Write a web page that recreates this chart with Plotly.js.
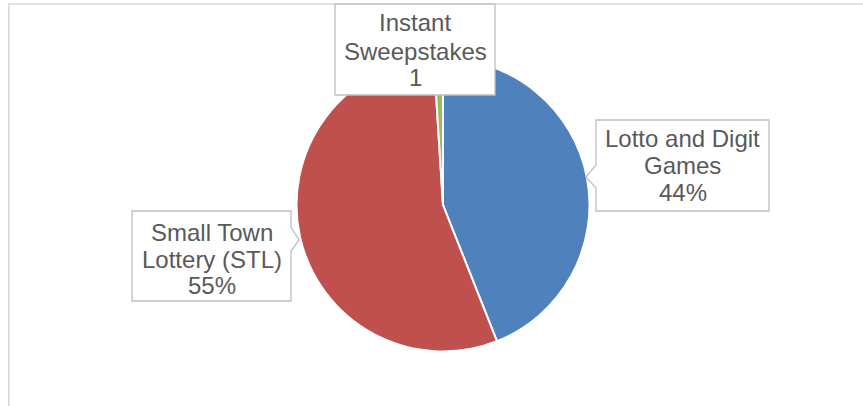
<!DOCTYPE html>
<html>
<head>
<meta charset="utf-8">
<script src="https://cdn.plot.ly/plotly-3.0.1.min.js"></script>
<style>html,body{margin:0;padding:0;background:#fff;}#chart{width:863px;height:406px;}</style>
</head>
<body>
<div id="chart"></div>
<script>
// ---- data ----
const categories = ['Lotto and Digit Games', 'Small Town Lottery (STL)', 'Instant Sweepstakes'];
const values = [44, 55, 1];
const valueLabels = ['44%', '55%', '1'];
const labelLines = [['Lotto and Digit', 'Games'], ['Small Town', 'Lottery (STL)'], ['Instant', 'Sweepstakes']];
const colors = ['#4F81BD', '#C0504D', '#9BBB59'];

// ---- layout helpers ----
const W = 863, H = 406;
const fx = x => x / W;
const fy = y => 1 - y / H;
const P = (x, y) => fx(x).toFixed(5) + ',' + fy(y).toFixed(5);

const cx = 443, cy = 205, r = 146.5;

const trace = {
  type: 'pie',
  labels: categories,
  values: values,
  sort: false,
  direction: 'clockwise',
  rotation: 0,
  textinfo: 'none',
  hoverinfo: 'none',
  showlegend: false,
  marker: {colors: colors, line: {color: '#FFFFFF', width: 2}},
  domain: {x: [fx(cx - r), fx(cx + r)], y: [fy(cy + r), fy(cy - r)]}
};

// callout boxes (positions in px)
const boxes = [
  // Lotto: pointer on left
  'M' + P(596, 120) + 'L' + P(769, 120) + 'L' + P(769, 211) + 'L' + P(596, 211) + 'L' + P(596, 188) + 'L' + P(586, 177) + 'L' + P(596, 165) + 'Z',
  // STL: pointer on right
  'M' + P(132, 211) + 'L' + P(291, 211) + 'L' + P(291, 227) + 'L' + P(299, 240) + 'L' + P(291, 251) + 'L' + P(291, 301) + 'L' + P(132, 301) + 'Z',
  // Instant
  'M' + P(335, 4) + 'L' + P(495, 4) + 'L' + P(495, 95) + 'L' + P(335, 95) + 'Z'
];
const textCenters = [
  {x: 682.5, y: [138.4, 165.7, 192.4]},
  {x: 211.5, y: [232.4, 259.0, 285.0]},
  {x: 415, y: [22.4, 51.0, 77.7]}
];

const shapes = [{
  type: 'path', xref: 'paper', yref: 'paper',
  path: 'M' + P(8.8, 415) + 'L' + P(8.8, 4) + 'L' + P(875, 4),
  line: {color: '#D9D9D9', width: 1.6}, layer: 'below'
}];
boxes.forEach(p => shapes.push({
  type: 'path', xref: 'paper', yref: 'paper', path: p,
  fillcolor: '#FFFFFF', line: {color: '#BFBFBF', width: 1.3}, layer: 'above'
}));

const annotations = [];
categories.forEach((c, i) => {
  const lines = labelLines[i].concat([valueLabels[i]]);
  lines.forEach((t, j) => {
    annotations.push({
      xref: 'paper', yref: 'paper', x: fx(textCenters[i].x), y: fy(textCenters[i].y[j]),
      xanchor: 'center', yanchor: 'middle', showarrow: false, text: t,
      font: {family: 'Liberation Sans, Arial, sans-serif', size: 24, color: '#595959'}
    });
  });
});

const layout = {
  width: W, height: H,
  margin: {l: 0, r: 0, t: 0, b: 0},
  paper_bgcolor: '#FFFFFF', plot_bgcolor: '#FFFFFF',
  showlegend: false,
  shapes: shapes,
  annotations: annotations
};

Plotly.newPlot('chart', [trace], layout, {staticPlot: true, displayModeBar: false});
</script>
</body>
</html>
